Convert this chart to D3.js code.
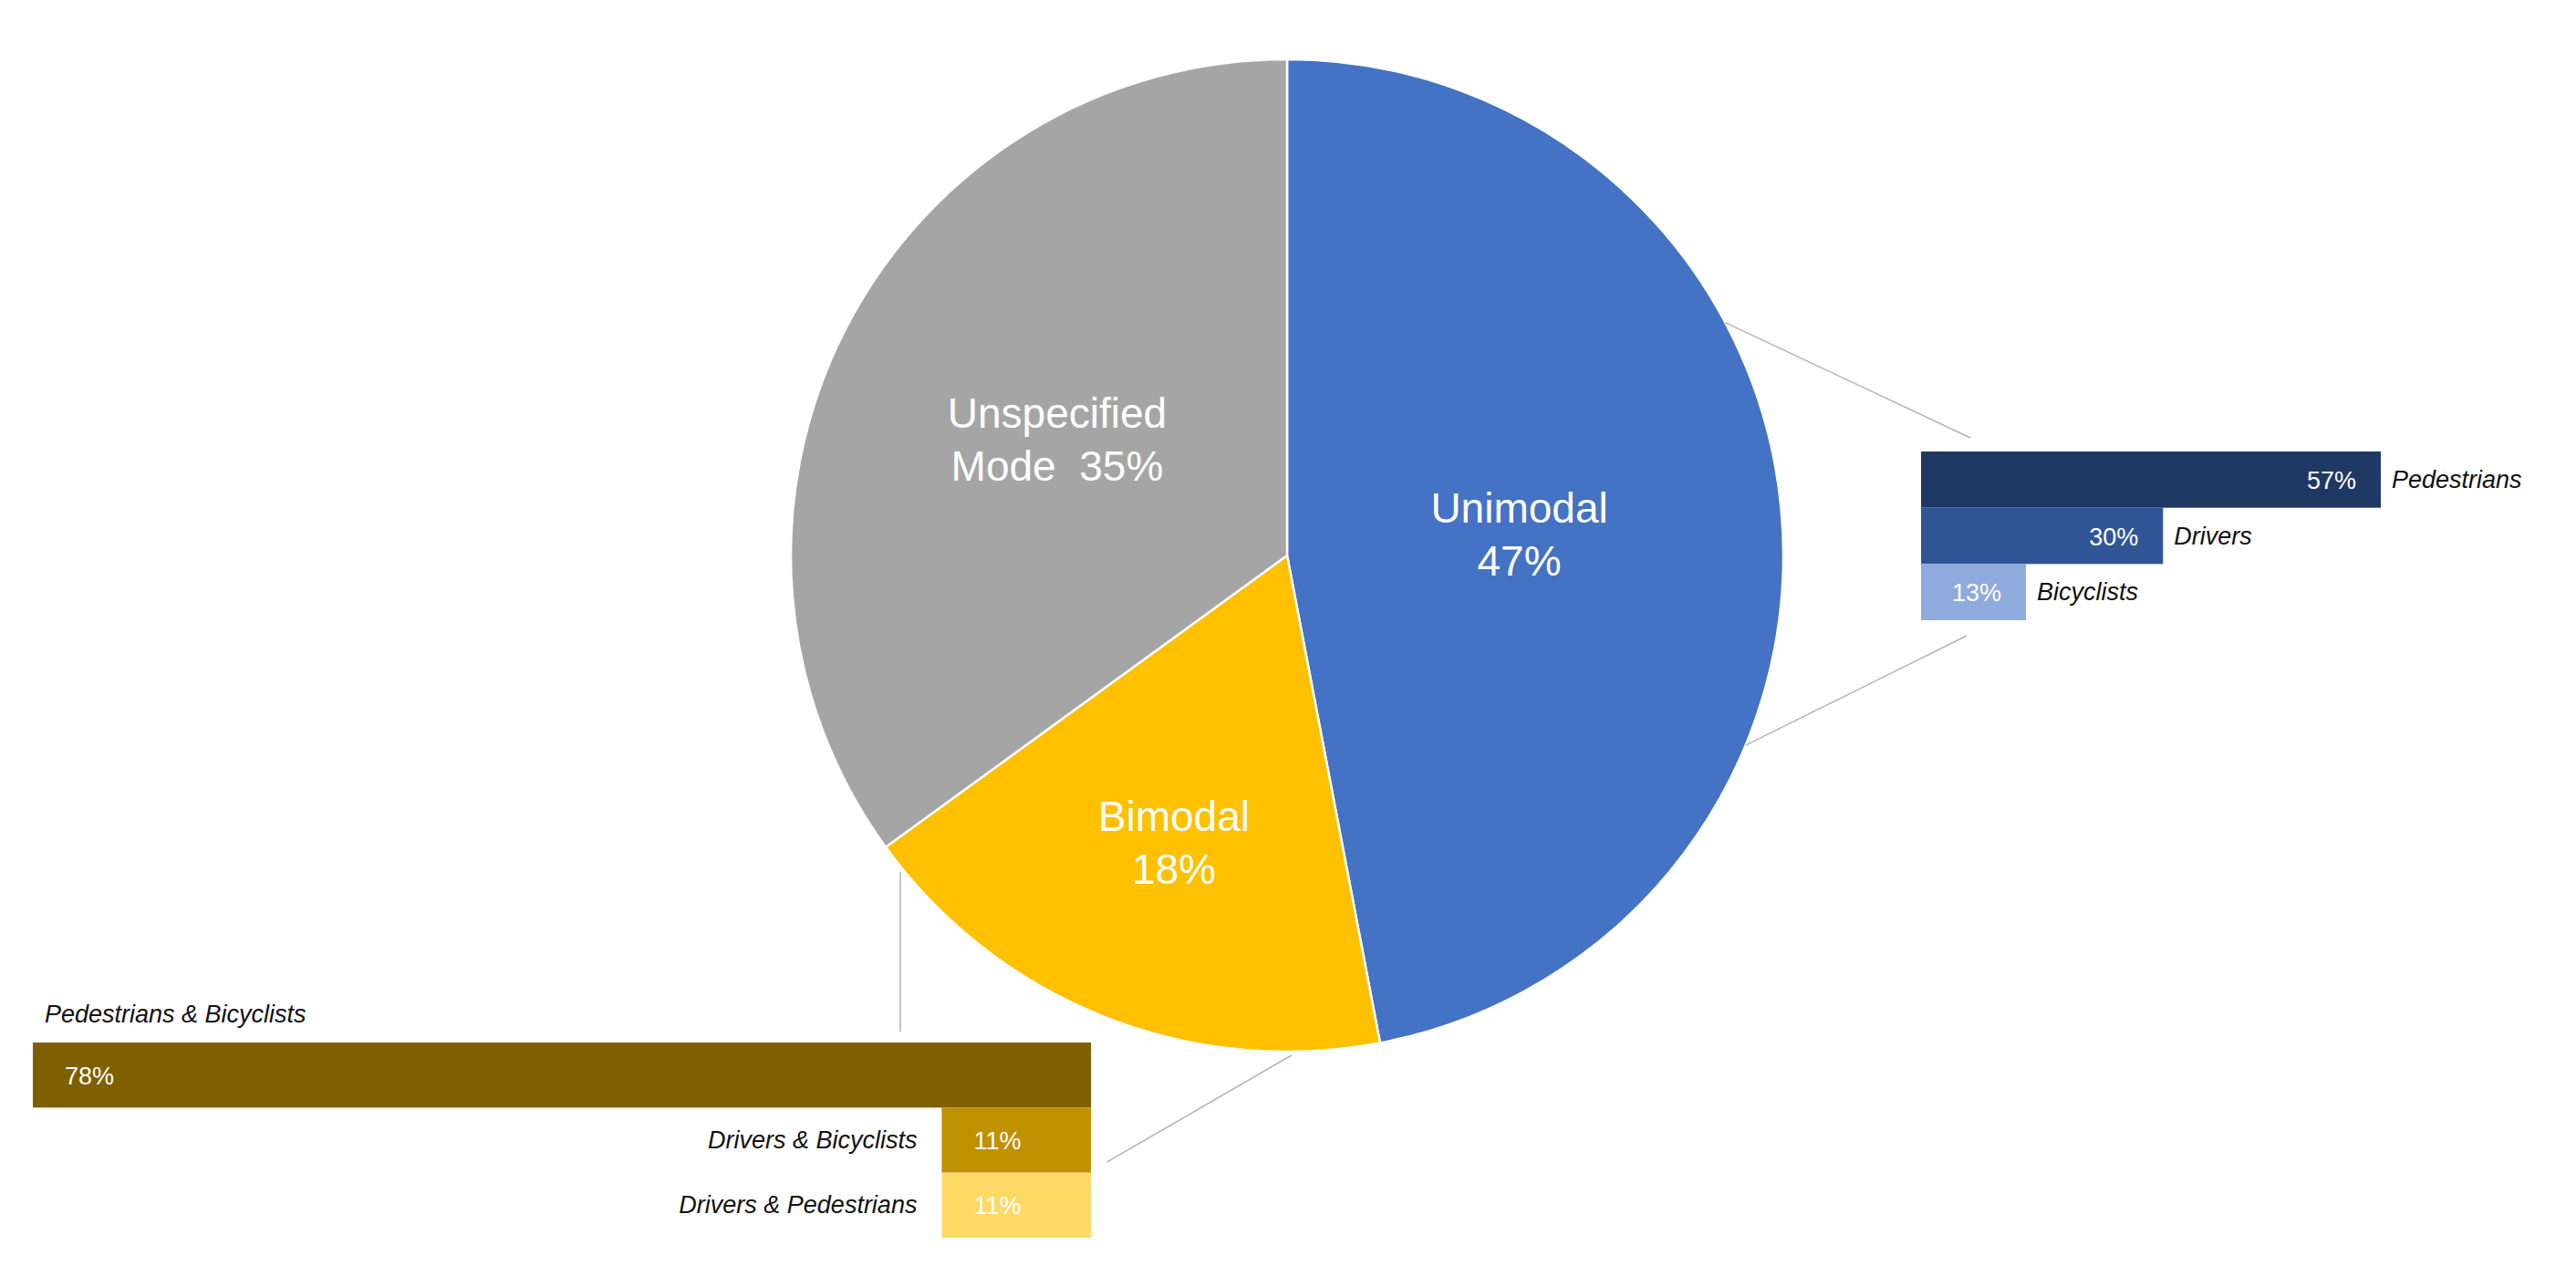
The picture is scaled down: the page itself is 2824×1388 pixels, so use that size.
<!DOCTYPE html>
<html>
<head>
<meta charset="utf-8">
<script src="https://cdn.jsdelivr.net/npm/d3@7"></script>
<style>
  body { margin: 0; background: #fff; }
  text { font-family: 'Liberation Sans', Arial, sans-serif; }
</style>
</head>
<body>
<script>
// main pie
const modes = ['Unimodal', 'Bimodal', 'Unspecified'];
const modeLabels = [['Unimodal', '47%'], ['Bimodal', '18%'], ['Unspecified', 'Mode  35%']];
const modeShares = [47, 18, 35];
const modeColors = ['#4472C4', '#FFC000', '#A5A5A5'];

// unimodal breakdown (right)
const uniCats = ['Pedestrians', 'Drivers', 'Bicyclists'];
const uniShares = [57, 30, 13];
const uniColors = ['#203864', '#2F5597', '#8FAADC'];

// bimodal breakdown (bottom left)
const biCats = ['Pedestrians & Bicyclists', 'Drivers & Bicyclists', 'Drivers & Pedestrians'];
const biShares = [78, 11, 11];
const biColors = ['#7F6000', '#BF9000', '#FFD966'];

const width = 2824;
const height = 1388;
const cx = 1411;
const cy = 609;
const radius = 544;

const svg = d3.select('body')
  .append('svg')
  .attr('width', width)
  .attr('height', height);

const deg = Math.PI / 180;
const edge = (a) => [cx + radius * Math.sin(a * deg), cy - radius * Math.cos(a * deg)];

// ---- pie ----
const pie = d3.pie().sort(null).value((d) => d)(modeShares);
const arc = d3.arc().innerRadius(0).outerRadius(radius);
const labelRad = { Unimodal: 0.47, Bimodal: 0.62, Unspecified: 0.52 };

const pieG = svg.append('g')
  .attr('transform', `translate(${cx},${cy})`);

pieG.selectAll('path')
  .data(pie)
  .enter().append('path')
  .attr('d', arc)
  .attr('fill', (d, i) => modeColors[i])
  .attr('stroke', '#fff')
  .attr('stroke-width', 2.5)
  .attr('stroke-linejoin', 'round');

pieG.selectAll('.plabel')
  .data(pie)
  .enter().append('text')
  .attr('class', 'plabel')
  .attr('transform', (d, i) => {
    const r = radius * labelRad[modes[i]];
    const c = d3.arc().innerRadius(r).outerRadius(r).centroid(d);
    return `translate(${c[0]},${c[1]})`;
  })
  .attr('text-anchor', 'middle')
  .attr('fill', '#fff')
  .style('font-size', '46px')
  .style('white-space', 'pre')
  .each(function (d, i) {
    const t = d3.select(this);
    modeLabels[i].forEach((line, j) => {
      t.append('tspan')
        .attr('x', 0)
        .attr('y', j === 0 ? -12 : 46)
        .text(line);
    });
  });

// ---- right bars ----
const rx0 = 2106;
const rx = d3.scaleLinear().domain([0, 57]).range([0, 504]);
const ry = d3.scaleBand().domain(uniCats).range([495, 680]).padding(0);

const right = svg.append('g');
right.selectAll('rect')
  .data(uniCats)
  .enter().append('rect')
  .attr('x', rx0)
  .attr('y', (d) => ry(d))
  .attr('width', (d, i) => rx(uniShares[i]))
  .attr('height', ry.bandwidth())
  .attr('fill', (d, i) => uniColors[i]);

right.selectAll('.val')
  .data(uniCats)
  .enter().append('text')
  .attr('class', 'val')
  .attr('x', (d, i) => rx0 + rx(uniShares[i]) - 27)
  .attr('y', (d) => ry(d) + ry.bandwidth() / 2 + 10)
  .attr('text-anchor', 'end')
  .attr('fill', '#fff')
  .style('font-size', '27px')
  .text((d, i) => `${uniShares[i]}%`);

right.selectAll('.cat')
  .data(uniCats)
  .enter().append('text')
  .attr('class', 'cat')
  .attr('x', (d, i) => rx0 + rx(uniShares[i]) + 12)
  .attr('y', (d) => ry(d) + ry.bandwidth() / 2 + 9)
  .attr('fill', '#111')
  .style('font-size', '27px')
  .style('font-style', 'italic')
  .text((d) => d);

// ---- bottom bars ----
const bx1 = 1196;
const bx = d3.scaleLinear().domain([0, 78]).range([0, 1160]);
const by = d3.scaleBand().domain(biCats).range([1143, 1357]).padding(0);

const bottom = svg.append('g');
bottom.selectAll('rect')
  .data(biCats)
  .enter().append('rect')
  .attr('x', (d, i) => bx1 - bx(biShares[i]))
  .attr('y', (d) => by(d))
  .attr('width', (d, i) => bx(biShares[i]))
  .attr('height', by.bandwidth())
  .attr('fill', (d, i) => biColors[i]);

bottom.selectAll('.val')
  .data(biCats)
  .enter().append('text')
  .attr('class', 'val')
  .attr('x', (d, i) => bx1 - bx(biShares[i]) + 35)
  .attr('y', (d) => by(d) + by.bandwidth() / 2 + 10)
  .attr('fill', '#fff')
  .style('font-size', '27px')
  .text((d, i) => `${biShares[i]}%`);

// long bar: label sits above it; short bars: label outside to the left
const roomy = (i) => bx1 - bx(biShares[i]) > 400;
bottom.selectAll('.cat')
  .data(biCats)
  .enter().append('text')
  .attr('class', 'cat')
  .attr('x', (d, i) => (roomy(i) ? bx1 - bx(biShares[i]) - 27 : bx1 - bx(biShares[i]) + 13))
  .attr('y', (d, i) => (roomy(i) ? by(d) + by.bandwidth() / 2 + 9 : by(d) - 22))
  .attr('text-anchor', (d, i) => (roomy(i) ? 'end' : 'start'))
  .attr('fill', '#111')
  .style('font-size', '27px')
  .style('font-style', 'italic')
  .text((d) => d);

// ---- connector lines ----
const [ux1, uy1] = edge(62);
const [ux2, uy2] = edge(112.5);
const [bvx, bvy] = edge(231.2);
const [bdx, bdy] = edge(179.5);
const connectors = [
  [[ux1, uy1], [rx0 + 54, ry.range()[0] - 15]],
  [[ux2, uy2], [rx0 + 50, ry.range()[1] + 17]],
  [[bvx, bvy + 6], [bvx, by.range()[0] - 12]],
  [[bdx, bdy + 4], [bx1 + 17, by(biCats[1]) + 60]],
];

svg.append('g')
  .selectAll('line')
  .data(connectors)
  .enter().append('line')
  .attr('x1', (d) => d[0][0])
  .attr('y1', (d) => d[0][1])
  .attr('x2', (d) => d[1][0])
  .attr('y2', (d) => d[1][1])
  .attr('stroke', '#b4b4b4')
  .attr('stroke-width', 1.5);
</script>
</body>
</html>
